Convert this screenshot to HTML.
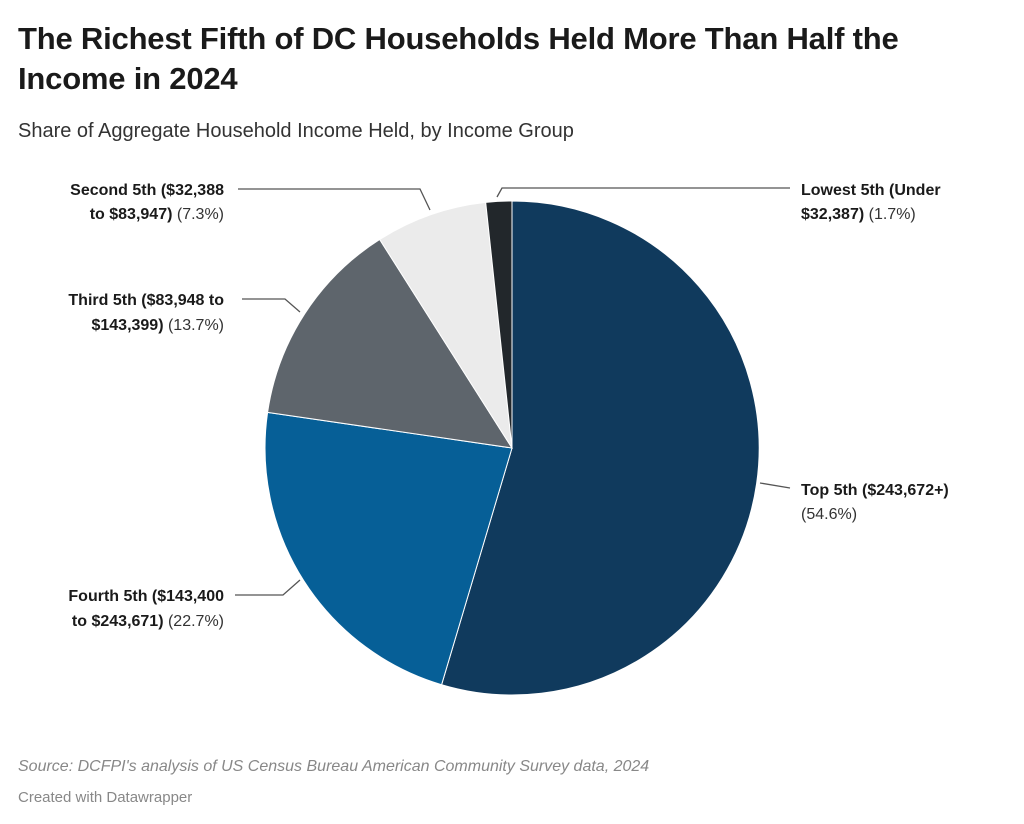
<!DOCTYPE html>
<html><head><meta charset="utf-8"><style>
body{margin:0;background:#fff;width:1024px;height:824px;overflow:hidden;font-family:"Liberation Sans",sans-serif;}
.t{position:absolute;left:18px;top:19px;font-size:31px;font-weight:bold;color:#1a1a1a;line-height:40px;width:975px;letter-spacing:-0.2px}
.s{position:absolute;left:18px;top:120px;font-size:20px;color:#333}
.src{position:absolute;left:18px;top:758px;font-size:16px;font-style:italic;color:#888}
.cr{position:absolute;left:18px;top:789px;font-size:15px;color:#888}
svg{position:absolute;left:0;top:0}
</style></head><body>
<div class="t">The Richest Fifth of DC Households Held More Than Half the Income in 2024</div>
<div class="s">Share of Aggregate Household Income Held, by Income Group</div>
<svg width="1024" height="824" font-family="Liberation Sans, sans-serif" font-size="16" fill="#333">
<g stroke="#fff" stroke-width="1">
<path d="M512,448 L512,201 A247,247 0 1 1 441.6,684.7 Z" fill="#103a5d"/>
<path d="M512,448 L441.6,684.7 A247,247 0 0 1 267.6,412.4 Z" fill="#065f97"/>
<path d="M512,448 L267.6,412.4 A247,247 0 0 1 379.7,239.5 Z" fill="#5e656c"/>
<path d="M512,448 L379.7,239.5 A247,247 0 0 1 485.7,202.4 Z" fill="#ebebeb"/>
<path d="M512,448 L485.7,202.4 A247,247 0 0 1 512,201 Z" fill="#22272b"/>
</g>
<g stroke="#555" stroke-width="1.3" fill="none">
<polyline points="238,189 420,189 430,210"/>
<polyline points="497,197 502,188 790,188"/>
<polyline points="242,299 285,299 300,312"/>
<polyline points="760,483 790,488"/>
<polyline points="235,595 283,595 300,580"/>
</g>
<text x="224" y="195" text-anchor="end"><tspan font-weight="bold" fill="#1a1a1a">Second 5th ($32,388</tspan></text>
<text x="224" y="219" text-anchor="end"><tspan font-weight="bold" fill="#1a1a1a">to $83,947)</tspan> (7.3%)</text>
<text x="801" y="195"><tspan font-weight="bold" fill="#1a1a1a">Lowest 5th (Under</tspan></text>
<text x="801" y="219"><tspan font-weight="bold" fill="#1a1a1a">$32,387)</tspan> (1.7%)</text>
<text x="224" y="305" text-anchor="end"><tspan font-weight="bold" fill="#1a1a1a">Third 5th ($83,948 to</tspan></text>
<text x="224" y="330" text-anchor="end"><tspan font-weight="bold" fill="#1a1a1a">$143,399)</tspan> (13.7%)</text>
<text x="801" y="495"><tspan font-weight="bold" fill="#1a1a1a">Top 5th ($243,672+)</tspan></text>
<text x="801" y="519">(54.6%)</text>
<text x="224" y="601" text-anchor="end"><tspan font-weight="bold" fill="#1a1a1a">Fourth 5th ($143,400</tspan></text>
<text x="224" y="626" text-anchor="end"><tspan font-weight="bold" fill="#1a1a1a">to $243,671)</tspan> (22.7%)</text>
</svg>
<div class="src">Source: DCFPI's analysis of US Census Bureau American Community Survey data, 2024</div>
<div class="cr">Created with Datawrapper</div>
</body></html>
